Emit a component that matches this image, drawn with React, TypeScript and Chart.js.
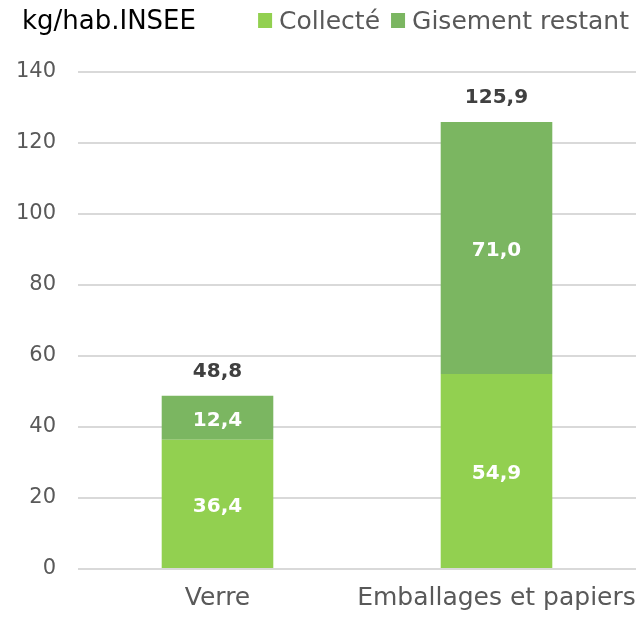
import React, { useEffect, useRef } from "react";
import { Chart, registerables } from "chart.js";

Chart.register(...registerables);

const categories = ["Verre", "Emballages et papiers"];
const collecte = [36.4, 54.9];
const gisement = [12.4, 71.0];
const totals = [48.8, 125.9];
const unitTitle = "kg/hab.INSEE";
const seriesNames = ["Collecté", "Gisement restant"];
const colors = ["#92D050", "#7BB661"];

const FONT = "'DejaVu Sans', sans-serif";

const fmt = (v: number) => v.toFixed(1).replace(".", ",");

const headerPlugin = {
  id: "header",
  afterDraw(chart: any) {
    const ctx = chart.ctx;
    ctx.save();
    ctx.textBaseline = "middle";
    ctx.font = `26px ${FONT}`;
    ctx.fillStyle = "#000";
    ctx.textAlign = "left";
    ctx.fillText(unitTitle, 22, 22);
    // legend, right aligned
    ctx.font = `25px ${FONT}`;
    const box = 14;
    const gap = 7;
    const itemGap = 11;
    const widths = seriesNames.map((n) => ctx.measureText(n).width);
    let total = 0;
    widths.forEach((w, i) => {
      total += box + gap + w + (i < widths.length - 1 ? itemGap : 0);
    });
    let x = 629 - total;
    seriesNames.forEach((n, i) => {
      ctx.fillStyle = colors[i];
      ctx.fillRect(x, 13, box, box + 1);
      x += box + gap;
      ctx.fillStyle = "#595959";
      ctx.fillText(n, x, 22);
      x += widths[i] + itemGap;
    });
    ctx.restore();
  },
};

const labelPlugin = {
  id: "barLabels",
  afterDatasetsDraw(chart: any) {
    const ctx = chart.ctx;
    ctx.save();
    ctx.textAlign = "center";
    ctx.textBaseline = "middle";
    chart.data.datasets.forEach((ds: any, di: number) => {
      const meta = chart.getDatasetMeta(di);
      meta.data.forEach((bar: any, i: number) => {
        const y = (bar.y + bar.base) / 2 + 3;
        ctx.font = `bold 20px ${FONT}`;
        ctx.fillStyle = "#FFFFFF";
        ctx.fillText(fmt(ds.data[i]), bar.x, y);
      });
    });
    const lastMeta = chart.getDatasetMeta(chart.data.datasets.length - 1);
    lastMeta.data.forEach((bar: any, i: number) => {
      ctx.font = `bold 20px ${FONT}`;
      ctx.fillStyle = "#404040";
      ctx.fillText(fmt(totals[i]), bar.x, bar.y - 24);
    });
    ctx.restore();
  },
};

export default function App() {
  const ref = useRef<HTMLCanvasElement>(null);
  useEffect(() => {
    document.body.style.margin = "0";
    const chart = new Chart(ref.current!, {
      type: "bar",
      data: {
        labels: categories,
        datasets: [
          {
            label: seriesNames[0],
            data: collecte,
            backgroundColor: colors[0],
            borderWidth: 0,
            barPercentage: 0.4,
            categoryPercentage: 1,
          },
          {
            label: seriesNames[1],
            data: gisement,
            backgroundColor: colors[1],
            borderWidth: 0,
            barPercentage: 0.4,
            categoryPercentage: 1,
          },
        ],
      },
      options: {
        animation: false,
        responsive: false,
        maintainAspectRatio: false,
        layout: { padding: { top: 72, left: 0, right: 0, bottom: 0 } },
        plugins: {
          legend: { display: false },
          title: { display: false },
          tooltip: { enabled: false },
        },
        scales: {
          x: {
            stacked: true,
            grid: { display: false },
            border: { display: false },
            ticks: {
              color: "#595959",
              font: { family: FONT, size: 25 },
              padding: 6,
              maxRotation: 0,
              minRotation: 0,
              autoSkip: false,
            },
            afterFit: (s: any) => {
              s.height = 48;
              s.paddingLeft = 0;
              s.paddingRight = 0;
            },
          },
          y: {
            stacked: true,
            min: 0,
            max: 140,
            ticks: {
              stepSize: 20,
              color: "#595959",
              font: { family: FONT, size: 21 },
              padding: 22,
            },
            grid: { color: "#D9D9D9", lineWidth: 2, drawTicks: false },
            border: { display: false },
            afterFit: (s: any) => {
              s.width = 78;
              s.paddingTop = 0;
              s.paddingBottom = 0;
            },
          },
        },
      },
      plugins: [headerPlugin, labelPlugin],
    });
    return () => chart.destroy();
  }, []);
  return (
    <div style={{ width: 636, height: 617 }}>
      <canvas ref={ref} width={636} height={617} style={{ display: "block" }} />
    </div>
  );
}
